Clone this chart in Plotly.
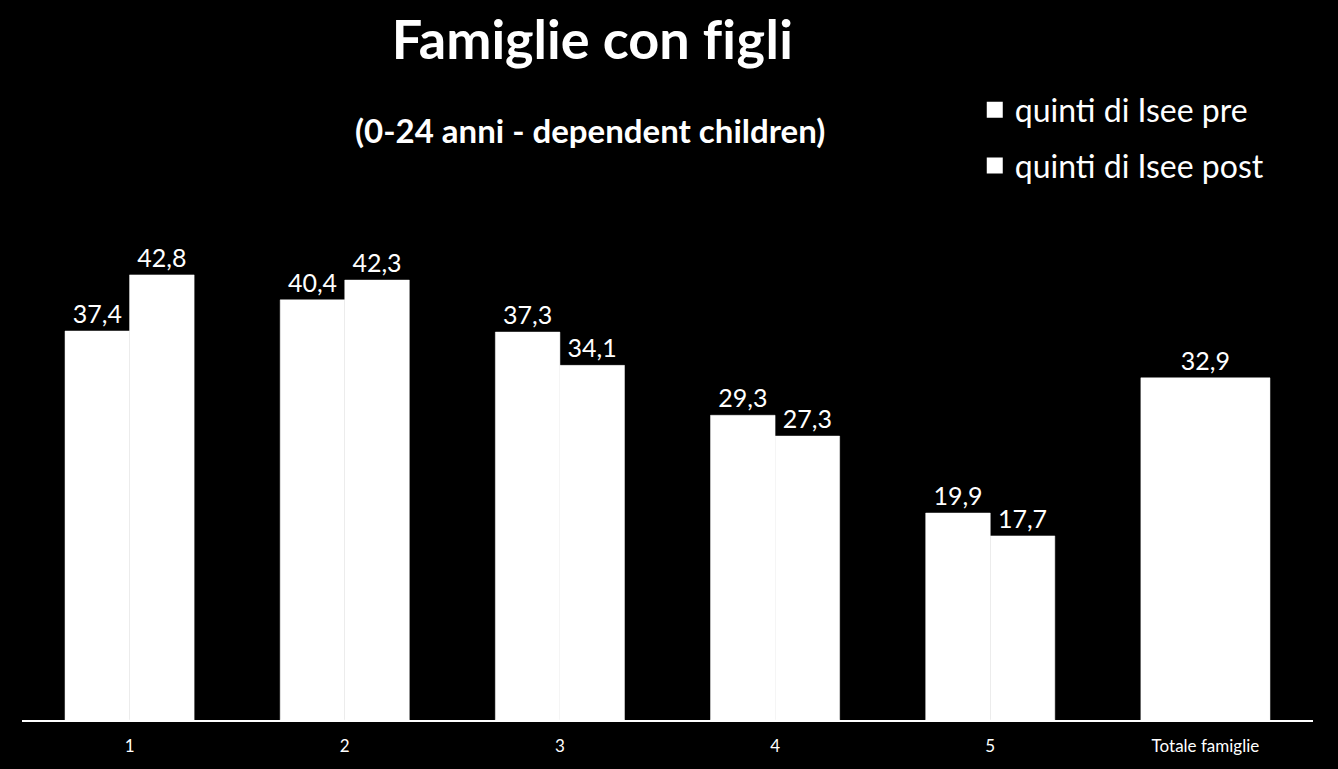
import plotly.graph_objects as go

# Dati
categorie = ["1", "2", "3", "4", "5", "Totale famiglie"]
pre_valori = [37.4, 40.4, 37.3, 29.3, 19.9, 32.9]
post_categorie = ["1", "2", "3", "4", "5"]
post_valori = [42.8, 42.3, 34.1, 27.3, 17.7]
serie_nomi = ["quinti di Isee pre", "quinti di Isee post"]

FONT = "Lato"

fig = go.Figure()

# Serie pre (il totale occupa la larghezza di due barre)
fig.add_trace(go.Bar(
    x=categorie,
    y=pre_valori,
    name=serie_nomi[0],
    showlegend=False,
    marker=dict(color="white", line=dict(color="white", width=0.5)),
    width=[0.3] * 5 + [0.6],
    offset=[-0.3] * 6,
    texttemplate="%{y:.1f}",
    textposition="outside",
    textfont=dict(color="white", size=25, family=FONT),
    cliponaxis=False,
))

# Serie post
fig.add_trace(go.Bar(
    x=post_categorie,
    y=post_valori,
    name=serie_nomi[1],
    showlegend=False,
    marker=dict(color="white", line=dict(color="white", width=0.5)),
    width=0.3,
    offset=0,
    texttemplate="%{y:.1f}",
    textposition="outside",
    textfont=dict(color="white", size=25, family=FONT),
    cliponaxis=False,
))

# Voci di legenda con quadrati più grandi
for i, nome in enumerate(serie_nomi):
    fig.add_trace(go.Scatter(
        x=[None],
        y=[None],
        mode="markers",
        name=nome,
        legendgroup=f"g{i}",
        marker=dict(symbol="square", size=16, color="white"),
    ))

fig.update_layout(
    width=1338,
    height=769,
    barmode="overlay",
    separators=",.",
    paper_bgcolor="black",
    plot_bgcolor="black",
    font=dict(family=FONT, color="white"),
    margin=dict(l=22, r=25, t=200, b=49),
    showlegend=True,
    title=dict(
        text="<b>Famiglie con f<span style='letter-spacing:0.5px'>igli</span></b>",
        font=dict(size=54, color="white", family=FONT),
        x=0.443,
        xanchor="center",
        xref="container",
        y=0.948,
        yanchor="middle",
        yref="container",
    ),
    legend=dict(
        x=0.738,
        xanchor="left",
        y=1.226,
        yanchor="top",
        xref="paper",
        yref="paper",
        font=dict(size=32, color="white", family=FONT),
        bgcolor="rgba(0,0,0,0)",
        itemclick=False,
        itemsizing="trace",
        tracegroupgap=11,
    ),
    xaxis=dict(
        type="category",
        range=[-0.5, 5.5],
        showgrid=False,
        showline=True,
        linecolor="white",
        linewidth=1.5,
        ticks="",
        ticklabelstandoff=10,
        tickfont=dict(size=17, color="white", family=FONT),
    ),
    yaxis=dict(
        range=[0, 50],
        showgrid=False,
        zeroline=False,
        showticklabels=False,
        ticks="",
    ),
)

fig.add_annotation(
    text="<b>(0-24 anni - dependent children)</b>",
    xref="paper",
    yref="paper",
    x=0.44,
    y=1.135,
    xanchor="center",
    yanchor="middle",
    showarrow=False,
    font=dict(size=33, color="white", family=FONT),
)

fig.write_html(
    "out.html",
    config={"displayModeBar": False},
    post_script="document.body.style.margin='0';document.body.style.background='black';",
)
